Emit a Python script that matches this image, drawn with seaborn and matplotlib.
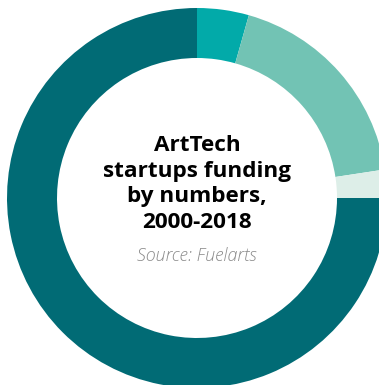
import os
import numpy as np
import matplotlib
matplotlib.use("Agg")
import matplotlib.pyplot as plt
from matplotlib import font_manager
import seaborn as sns

# funding share by segment (percent), clockwise from 12 o'clock
segments = ["Segment A", "Segment B", "Segment C", "Segment D"]
shares = [4.4, 18.2, 2.4, 75.0]
colors = ["#02aaa9", "#72c3b4", "#ddeee8", "#016b75"]

title_text = "ArtTech\nstartups funding\nby numbers,\n2000-2018"
source_text = "Source: Fuelarts"

sns.set_style("white")
plt.rcParams['font.family'] = ['Open Sans', 'DejaVu Sans']


def font_file(basename):
    # pick the static Open Sans file (not the condensed / variable one)
    for f in font_manager.fontManager.ttflist:
        if os.path.basename(f.fname) == basename:
            return f.fname
    return None


bold_path = font_file("OpenSans-Bold.ttf")
italic_path = font_file("OpenSans-LightItalic.ttf")
title_font = font_manager.FontProperties(fname=bold_path, size=16.2) if bold_path else \
    font_manager.FontProperties(family="DejaVu Sans", weight="bold", size=14.5)
source_font = font_manager.FontProperties(fname=italic_path, size=12.9) if italic_path else \
    font_manager.FontProperties(family="DejaVu Sans", style="italic", size=11.5)

fig = plt.figure(figsize=(3.79, 3.85), dpi=100)
ax = fig.add_axes([0, 0, 1, 1])

# donut centre sits at pixel (197,198), outer radius 190 px
cx, cy, R = 197, 198, 190
ax.pie(shares, colors=colors, startangle=90, counterclock=False, radius=1,
       wedgeprops=dict(width=50 / R, edgecolor="none", linewidth=0))
ax.set_xlim((0 - cx) / R, (379 - cx) / R)
ax.set_ylim((cy - 385) / R, (cy - 0) / R)
ax.set_aspect("auto")
ax.axis("off")

ax.text(0, (cy - 184) / R, title_text, ha="center", va="center",
        fontproperties=title_font, color="black", linespacing=1.3)
ax.text(0, (cy - 256) / R, source_text, ha="center", va="center",
        fontproperties=source_font, color="#8a8a8a")

fig.savefig("out.png", dpi=100)
